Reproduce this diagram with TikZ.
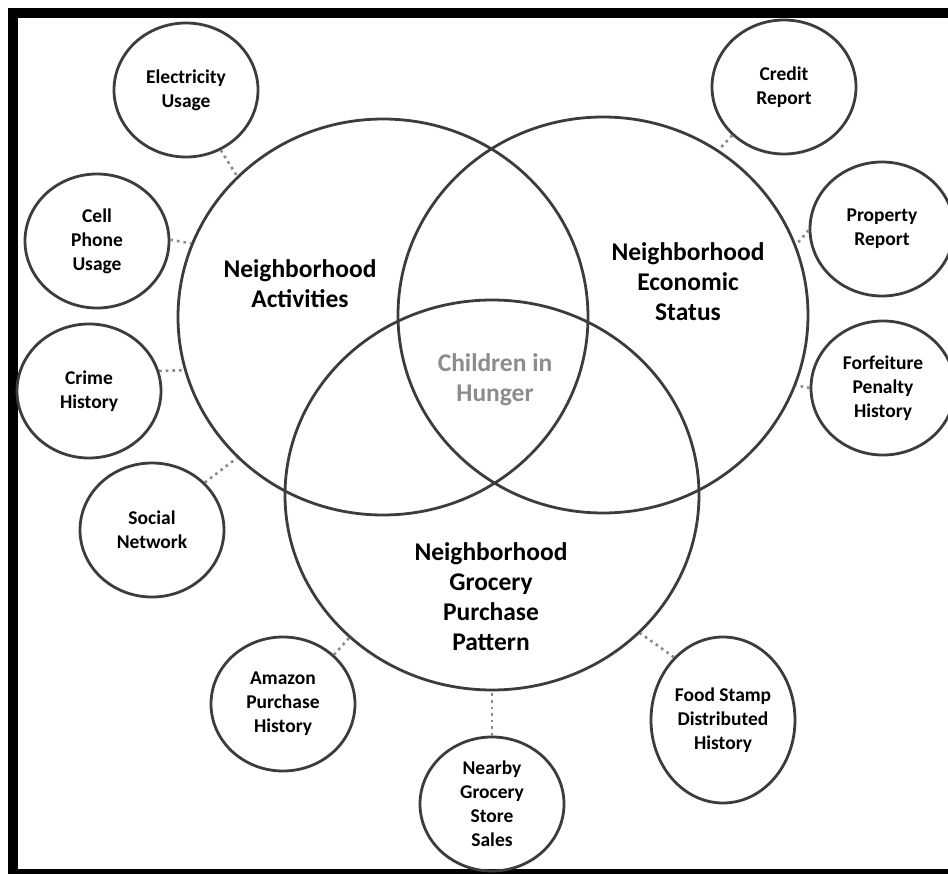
\documentclass[tikz,border=0pt]{standalone}
\usepackage{fontspec}
\setmainfont{Carlito}
\usetikzlibrary{shapes.geometric, positioning}

\definecolor{ringgray}{HTML}{3C3C3C}
\definecolor{linkgray}{HTML}{8A8A8A}
\definecolor{hungergray}{HTML}{8C8C8C}

\begin{document}
\begin{tikzpicture}[
    x=1pt, y=-1pt,
    venn/.style={ellipse, draw=ringgray, line width=2.8pt, inner sep=0pt},
    source/.style={ellipse, draw=ringgray, line width=2.8pt, minimum width=144pt, minimum height=134pt, inner sep=0pt, align=center, font=\fontsize{19.5}{24}\selectfont\bfseries},
    biglabel/.style={align=center, font=\fontsize{25.5}{30}\selectfont\bfseries},
    link/.style={draw=linkgray, line width=2.6pt, dash pattern=on 2.6pt off 4pt}
]
    \useasboundingbox (0,0) rectangle (948,874);
    % Frame
    \draw [line width=10pt] (12.5,13) rectangle (958,874);

    % Venn circles
    \node (activities) [venn, minimum width=410pt, minimum height=396pt] at (383,317) {};
    \node (economic) [venn, minimum width=410pt, minimum height=396pt] at (603,315) {};
    \node (grocery) [venn, minimum width=414pt, minimum height=390pt] at (492,495) {};

    % Labels inside the circles
    \node (actlabel) [biglabel] at (300,284) {Neighborhood\\Activities};
    \node (ecolabel) [biglabel] at (688,282) {Neighborhood\\Economic\\Status};
    \node (grolabel) [biglabel] at (491,597) {Neighborhood\\Grocery\\Purchase\\Pattern};
    \node (hunger) [biglabel, text=hungergray] at (495,380) {Children in\\Hunger};

    % Data sources
    \node (electricity) [source] at (186,90) {Electricity\\Usage};
    \node (cellphone) [source] at (97,241) {Cell\\Phone\\Usage};
    \node (crime) [source] at (89,391) {Crime\\History};
    \node (social) [source] at (152,530) {Social\\Network};
    \node (credit) [source] at (784,87) {Credit\\Report};
    \node (property) [source] at (882,229) {Property\\Report};
    \node (forfeiture) [source] at (883,388) {Forfeiture\\Penalty\\History};
    \node (amazon) [source] at (283,704) {Amazon\\Purchase\\History};
    \node (nearby) [source] at (492,804) {Nearby\\Grocery\\Store\\Sales};
    \node (foodstamp) [source, minimum height=166pt] at (723,720) {Food Stamp\\Distributed\\History};

    % Connections - activities
    \draw [link] (electricity.-60) -- (activities.136);
    \draw [link] (cellphone.1) -- (activities.159);
    \draw [link] (crime.16) -- (activities.195);
    \draw [link] (social.42) -- (activities.224);

    % Connections - economic status
    \draw [link] (credit.223) -- (economic.55);
    \draw [link] (property.181) -- (economic.20);
    \draw [link] (forfeiture.180) -- (economic.-20);

    % Connections - grocery purchase
    \draw [link] (amazon.44) -- (grocery.225);
    \draw [link] (nearby.north) -- (grocery.south);
    \draw [link] (foodstamp.128) -- (grocery.-43);
\end{tikzpicture}
\end{document}
